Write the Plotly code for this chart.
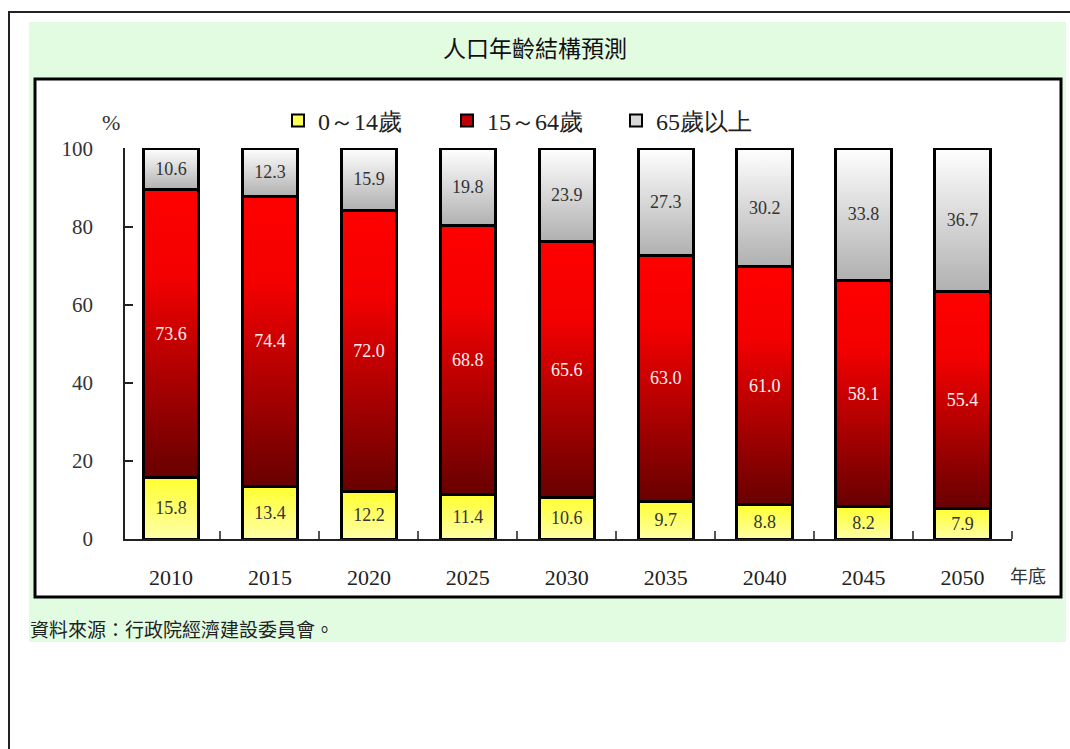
import numpy as np
import plotly.graph_objects as go

# ---------------- data ----------------
years = ["2010", "2015", "2020", "2025", "2030", "2035", "2040", "2045", "2050"]
age_0_14 = [15.8, 13.4, 12.2, 11.4, 10.6, 9.7, 8.8, 8.2, 7.9]
age_15_64 = [73.6, 74.4, 72.0, 68.8, 65.6, 63.0, 61.0, 58.1, 55.4]
age_65_up = [10.6, 12.3, 15.9, 19.8, 23.9, 27.3, 30.2, 33.8, 36.7]
series_names = ["0～14歲", "15～64歲", "65歲以上"]
y_ticks = [0, 20, 40, 60, 80, 100]

# ---------------- styling ----------------
W, H = 1070, 749
L, R, T, B = 125, 58, 148, 210
PW, PH = W - L - R, H - T - B
SERIF = "Liberation Serif, Times New Roman, Noto Sans CJK TC, serif"
CJK = "Noto Sans CJK TC, sans-serif"
BAR_W = 0.56
Y_MAX = 100.15

def px(x):
    return (x - L) / PW

def py(y):
    return (H - B - y) / PH

scales = [
    [[0, "#ffffa8"], [1, "#ffff30"]],
    [[0, "#680000"], [0.45, "#c00000"], [0.7, "#f40000"], [1, "#ff0000"]],
    [[0, "#b0b0b0"], [1, "#ffffff"]],
]
legend_colors = ["#ffff55", "#c00000", "#d8d8d8"]
text_colors = ["#333333", "#fff0f0", "#333333"]

idx = np.arange(len(years))
data = [np.array(age_0_14), np.array(age_15_64), np.array(age_65_up)]
bases = [np.zeros(len(years)), data[0], data[0] + data[1]]

fig = go.Figure()

# gradient fills on the main axes
for s in range(3):
    for i in idx:
        b = bases[s][i]
        t = b + data[s][i]
        x0, x1 = i - BAR_W / 2, i + BAR_W / 2
        fig.add_trace(go.Scatter(
            x=[x0, x1, x1, x0, x0], y=[b, b, t, t, b],
            mode="none", fill="toself",
            fillgradient=dict(type="vertical", colorscale=scales[s]),
            hoverinfo="skip", showlegend=False, xaxis="x", yaxis="y"))

# bar outlines + labels on overlay axes
for s in range(3):
    fig.add_trace(go.Bar(
        x=idx, y=data[s], width=BAR_W, name=series_names[s],
        marker=dict(color="rgba(0,0,0,0)", line=dict(color="black", width=3)),
        text=[f"{v:.1f}" for v in data[s]], textposition="inside",
        insidetextanchor="middle", textangle=0,
        textfont=dict(family=SERIF, size=18, color=text_colors[s]),
        cliponaxis=False, showlegend=False, hoverinfo="skip",
        xaxis="x2", yaxis="y2"))

# legend entries
for s in range(3):
    fig.add_trace(go.Bar(
        x=[None], y=[None], name=series_names[s],
        marker=dict(color=legend_colors[s], line=dict(color="black", width=2)),
        xaxis="x2", yaxis="y2", showlegend=True))

xr = [-0.465, 8.5]
fig.update_layout(
    width=W, height=H,
    margin=dict(l=L, r=R, t=T, b=B),
    paper_bgcolor="white", plot_bgcolor="rgba(0,0,0,0)",
    barmode="stack", bargap=0.44,
    xaxis=dict(range=xr, tickmode="array", tickvals=idx, ticktext=years,
               ticks="", showline=True, linecolor="#222", linewidth=1.5,
               showgrid=False, zeroline=False, ticklabelstandoff=18,
               tickfont=dict(family=SERIF, size=22, color="#222"),
               minor=dict(tickmode="array", tickvals=list(idx + 0.5),
                          ticks="inside", ticklen=8, tickwidth=1.5,
                          tickcolor="#555", showgrid=False)),
    yaxis=dict(range=[0, Y_MAX], tickmode="array", tickvals=y_ticks,
               ticks="inside", ticklen=8, tickwidth=1.5, tickcolor="#222",
               showline=True, linecolor="#222", linewidth=1.5,
               showgrid=False, zeroline=False, ticklabelstandoff=26,
               tickfont=dict(family=SERIF, size=21, color="#333")),
    xaxis2=dict(overlaying="x", range=xr, visible=False),
    yaxis2=dict(overlaying="y", range=[0, Y_MAX], visible=False),
    legend=dict(orientation="h", x=px(278), y=py(121), xanchor="left",
                yanchor="middle", bgcolor="rgba(0,0,0,0)",
                traceorder="normal",
                entrywidth=124, entrywidthmode="pixels",
                font=dict(family="Liberation Serif", size=24, color="#222")),
    shapes=[
        dict(type="rect", xref="paper", yref="paper", layer="below",
             x0=px(9), x1=px(1080), y0=py(12), y1=py(760),
             line=dict(color="#222", width=2), fillcolor="white"),
        dict(type="rect", xref="paper", yref="paper", layer="below",
             x0=px(29), x1=px(1066), y0=py(22), y1=py(642),
             line=dict(width=0), fillcolor="#e2fce2"),
        dict(type="rect", xref="paper", yref="paper", layer="below",
             x0=px(35), x1=px(1061), y0=py(79), y1=py(597),
             line=dict(color="black", width=3), fillcolor="white"),
    ],
    annotations=[
        dict(text="人口年齡結構預測", xref="paper", yref="paper",
             x=px(535), y=py(47), xanchor="center", yanchor="middle",
             showarrow=False, font=dict(family=CJK, size=23, color="#111")),
        dict(text="%", xref="paper", yref="paper", x=px(111), y=py(123),
             xanchor="center", yanchor="middle",
             showarrow=False, font=dict(family=SERIF, size=22, color="#333")),
        dict(text="年底", xref="paper", yref="paper", x=px(1028), y=py(575),
             xanchor="center", yanchor="middle",
             showarrow=False, font=dict(family=CJK, size=18, color="#333")),
        dict(text="資料來源：行政院經濟建設委員會。", xref="paper", yref="paper",
             x=px(28), y=py(628), xanchor="left", yanchor="middle",
             showarrow=False, font=dict(family=CJK, size=19, color="#222")),
    ],
)

fig.write_html("out.html")
